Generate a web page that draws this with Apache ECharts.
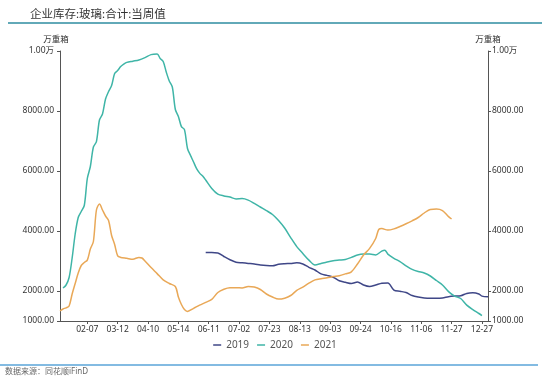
<!DOCTYPE html>
<html><head><meta charset="utf-8">
<script src="https://cdn.jsdelivr.net/npm/echarts@6/dist/echarts.min.js"></script>
<style>html,body{margin:0;padding:0;background:#fff}#c{width:550px;height:380px}</style>
</head><body><div id="c"></div>
<script>
const categories = [
'01-08','01-11','01-15','01-18','01-21','01-25','01-28','01-31','02-04','02-07',
'02-10','02-14','02-17','02-20','02-24','02-27','03-02','03-05','03-09','03-12',
'03-15','03-18','03-21','03-24','03-27','03-30','04-02','04-05','04-07','04-10',
'04-13','04-17','04-20','04-24','04-27','04-30','05-04','05-07','05-11','05-14',
'05-17','05-20','05-23','05-25','05-28','05-31','06-03','06-05','06-08','06-11',
'06-13','06-15','06-17','06-19','06-21','06-23','06-25','06-27','06-30','07-02',
'07-04','07-06','07-08','07-10','07-12','07-14','07-16','07-18','07-21','07-23',
'07-25','07-27','07-29','07-31','08-02','08-04','08-06','08-08','08-11','08-13',
'08-15','08-17','08-19','08-21','08-23','08-25','08-27','08-29','09-01','09-03',
'09-05','09-07','09-09','09-11','09-13','09-15','09-17','09-19','09-22','09-24',
'09-26','09-28','09-30','10-02','10-04','10-06','10-08','10-10','10-13','10-16',
'10-18','10-20','10-22','10-24','10-26','10-28','10-30','11-01','11-04','11-06',
'11-08','11-10','11-12','11-14','11-16','11-18','11-20','11-22','11-25','11-27',
'11-30','12-03','12-06','12-09','12-12','12-15','12-18','12-21','12-24','12-27',
'12-29','12-31'];
const tickLabels = ['02-07','03-12','04-10','05-14','06-11','07-02','07-23','08-13','09-03','09-24','10-16','11-06','11-27','12-27'];
const yTicks = [1000,2000,4000,6000,8000,10000];
const seriesNames = ['2019','2020','2021'];

const data2019 = [
['06-08',3280],['06-13',3280],['06-17',3270],['06-21',3150],['06-25',3040],['06-30',2960],['07-04',2940],['07-08',2920],
['07-12',2900],['07-16',2870],['07-21',2850],['07-25',2840],['07-29',2890],['08-02',2910],['08-06',2920],['08-11',2940],
['08-15',2900],['08-19',2790],['08-23',2700],['08-27',2570],['09-01',2520],['09-05',2460],['09-09',2340],['09-13',2290],
['09-17',2250],['09-22',2300],['09-26',2200],['09-30',2150],['10-04',2200],['10-08',2260],['10-13',2270],['10-18',2030],
['10-22',1990],['10-26',1950],['10-30',1850],['11-04',1800],['11-08',1770],['11-12',1760],['11-16',1760],['11-20',1770],
['11-25',1810],['11-30',1830],['12-06',1840],['12-12',1920],['12-18',1940],['12-24',1900],['12-27',1830],['12-31',1810]];

const data2020 = [
['01-11',2100],['01-15',2200],['01-18',2450],['01-21',3100],['01-25',3900],['01-28',4450],['01-31',4650],['02-04',4850],
['02-07',5750],['02-10',6150],['02-14',6800],['02-17',6980],['02-20',7700],['02-24',7900],['02-27',8400],['03-02',8650],
['03-05',8850],['03-09',9250],['03-12',9350],['03-15',9480],['03-18',9560],['03-21',9620],['03-27',9660],['04-02',9700],
['04-07',9780],['04-13',9880],['04-20',9900],['04-24',9750],['04-27',9650],['04-30',9300],['05-04',9000],['05-07',8800],
['05-11',8050],['05-14',7820],['05-17',7480],['05-20',7380],['05-23',6750],['05-25',6520],['05-28',6300],['05-31',6080],
['06-03',5930],['06-05',5830],['06-08',5700],['06-13',5420],['06-17',5230],['06-21',5170],['06-25',5130],['06-30',5070],
['07-04',5080],['07-08',5030],['07-12',4920],['07-16',4800],['07-21',4680],['07-25',4550],['07-29',4350],['08-02',4100],
['08-06',3780],['08-11',3480],['08-15',3250],['08-19',3030],['08-23',2870],['08-27',2920],['09-01',2970],['09-05',3010],
['09-09',3030],['09-13',3050],['09-17',3120],['09-22',3200],['09-26',3230],['09-30',3230],['10-04',3200],['10-08',3330],
['10-10',3360],['10-13',3230],['10-18',3090],['10-22',2980],['10-26',2840],['10-30',2720],['11-04',2650],['11-08',2600],
['11-12',2500],['11-16',2350],['11-20',2200],['11-25',1980],['11-30',1830],['12-06',1750],['12-12',1530],['12-18',1380],
['12-24',1250],['12-27',1180]];

const data2021 = [
['01-08',1340],['01-11',1400],['01-15',1440],['01-18',1500],['01-21',1900],['01-25',2250],['01-28',2600],['01-31',2850],
['02-04',2950],['02-07',3030],['02-10',3400],['02-14',3650],['02-17',4700],['02-20',4900],['02-24',4700],['02-27',4500],
['03-02',4350],['03-05',3850],['03-09',3550],['03-12',3170],['03-15',3120],['03-21',3090],['03-27',3060],['04-02',3120],
['04-05',3100],['04-07',3000],['04-13',2780],['04-20',2580],['04-27',2370],['05-04',2250],['05-11',2150],['05-14',1800],
['05-17',1550],['05-20',1380],['05-23',1320],['05-28',1420],['06-03',1530],['06-08',1620],['06-13',1720],['06-17',1950],
['06-21',2060],['06-25',2110],['06-30',2110],['07-04',2100],['07-08',2150],['07-12',2130],['07-16',2050],['07-21',1900],
['07-25',1800],['07-29',1730],['08-02',1760],['08-06',1850],['08-11',2020],['08-15',2130],['08-19',2260],['08-23',2370],
['08-27',2410],['09-01',2440],['09-05',2480],['09-09',2510],['09-13',2570],['09-17',2640],['09-22',2900],['09-26',3200],
['09-30',3420],['10-04',3750],['10-06',4050],['10-08',4080],['10-13',4030],['10-18',4070],['10-22',4150],['10-26',4240],
['10-30',4340],['11-04',4450],['11-08',4600],['11-12',4720],['11-16',4730],['11-20',4680],['11-25',4480],['11-27',4400]];

const colors = ['#3f4787','#3fb5a7','#e9a857'];
const FONT = '"Noto Sans", "Noto Sans CJK SC", sans-serif';
const fmt = v => v >= 10000 ? (v / 10000).toFixed(2) + '万' : v.toFixed(2);
const showTick = (i, v) => tickLabels.indexOf(v) >= 0;

function yAxis(pos, margin, pad) {
  return {
    type: 'value', position: pos, min: 1000, max: 10000,
    name: '万重箱', nameLocation: 'end', nameGap: 7,
    nameTextStyle: { color: '#333', fontSize: 8.5, fontFamily: FONT, align: 'center', padding: pad },
    axisLine: { show: true, lineStyle: { color: '#555', width: 1 } },
    axisTick: { show: true, length: 3, customValues: yTicks, lineStyle: { color: '#555' } },
    axisLabel: { customValues: yTicks, formatter: fmt, color: '#333', fontSize: 8.5, fontFamily: FONT, margin: margin },
    splitLine: { show: false }
  };
}

const chart = echarts.init(document.getElementById('c'), null, { renderer: 'canvas' });
chart.setOption({
  animation: false,
  color: colors,
  textStyle: { fontFamily: FONT },
  title: { text: '企业库存:玻璃:合计:当周值', left: 25, top: 4,
    textStyle: { fontSize: 11.5, fontWeight: 'normal', color: '#333', fontFamily: FONT } },
  grid: { left: 60, right: 62, top: 51, bottom: 59, containLabel: false },
  legend: { bottom: 25, left: 'center', icon: 'rect', itemWidth: 8, itemHeight: 1.5, itemGap: 8,
    data: seriesNames, textStyle: { color: '#555', fontSize: 10, fontFamily: FONT } },
  xAxis: {
    type: 'category', data: categories, boundaryGap: false,
    axisLine: { lineStyle: { color: '#555', width: 1 } },
    axisTick: { show: true, length: 3, interval: showTick, lineStyle: { color: '#555' } },
    axisLabel: { interval: showTick, color: '#333', fontSize: 8.5, fontFamily: FONT, margin: 4 }
  },
  yAxis: [yAxis('left', 6, [0, 8, 0, 0]), yAxis('right', 4, [0, 0, 0, 0])],
  series: [
    { name: seriesNames[0], type: 'line', data: data2019, showSymbol: false, smooth: 0.3, lineStyle: { width: 1.5 } },
    { name: seriesNames[1], type: 'line', data: data2020, showSymbol: false, smooth: 0.3, lineStyle: { width: 1.5 } },
    { name: seriesNames[2], type: 'line', data: data2021, showSymbol: false, smooth: 0.3, lineStyle: { width: 1.5 } }
  ],
  graphic: [
    { type: 'line', shape: { x1: 8, y1: 23, x2: 542, y2: 23 }, style: { stroke: '#62a9b8', lineWidth: 2 } },
    { type: 'line', shape: { x1: 0, y1: 365, x2: 538, y2: 365 }, style: { stroke: '#5aa5d8', lineWidth: 1.5 } },
    { type: 'text', left: 5, top: 368, style: { text: '数据来源：同花顺iFinD', fill: '#666', fontSize: 8, fontFamily: FONT } }
  ]
});
</script></body></html>
